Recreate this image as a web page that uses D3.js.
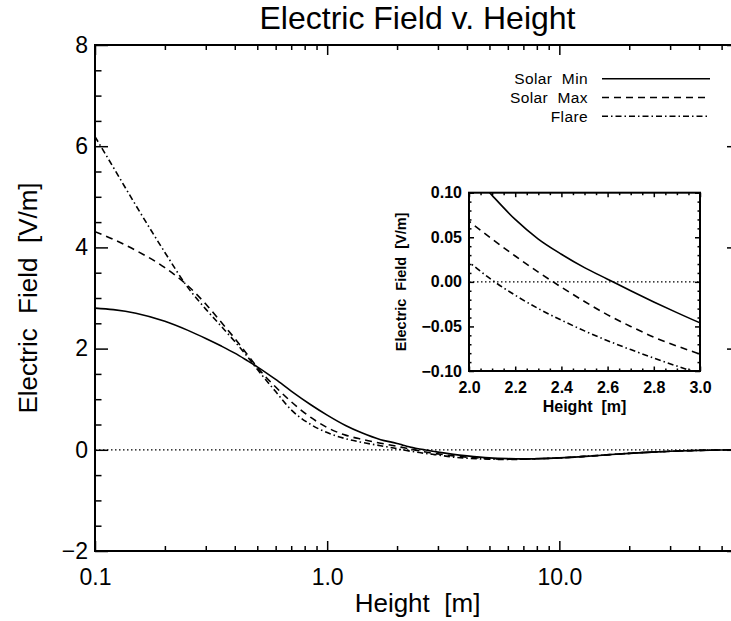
<!DOCTYPE html>
<html>
<head>
<meta charset="utf-8">
<script src="https://cdn.jsdelivr.net/npm/d3@7"></script>
<style>
  body { margin: 0; background: #fff; }
  svg { display: block; }
  text { white-space: pre; }
</style>
</head>
<body>
<svg id="chart" width="731" height="621"></svg>
<script>
// Heights [m] where the curves are sampled
const heights = [0.1, 0.12, 0.15, 0.2, 0.25, 0.3, 0.35, 0.4, 0.45, 0.5, 0.6, 0.7, 0.85, 1.0, 1.2, 1.4, 1.7,
  2.0, 2.1, 2.2, 2.3, 2.4, 2.5, 2.6, 2.7, 2.8, 2.9, 3.0, 3.5, 4, 5, 6, 7, 8, 10, 13, 16, 20, 25, 30, 40, 50, 60];

// Electric field [V/m]
const solarMin = [2.80, 2.77, 2.70, 2.54, 2.365, 2.20, 2.05, 1.91, 1.77, 1.64, 1.39, 1.16, 0.89, 0.685, 0.48, 0.34, 0.20,
  0.126, 0.097, 0.070, 0.048, 0.031, 0.016, 0.003, -0.010, -0.0225, -0.0345, -0.046, -0.090, -0.120, -0.160, -0.175,
  -0.180, -0.175, -0.160, -0.130, -0.100, -0.070, -0.045, -0.030, -0.012, -0.004, 0.0];
const solarMax = [4.31, 4.16, 3.94, 3.60, 3.25, 2.88, 2.52, 2.20, 1.90, 1.63, 1.24, 0.95, 0.64, 0.44, 0.29, 0.21, 0.13,
  0.068, 0.048, 0.029, 0.011, -0.006, -0.022, -0.037, -0.050, -0.062, -0.072, -0.081, -0.120, -0.145, -0.175, -0.185,
  -0.185, -0.178, -0.160, -0.128, -0.100, -0.070, -0.045, -0.030, -0.012, -0.004, 0.0];
const flare = [6.19, 5.58, 4.83, 3.90, 3.22, 2.78, 2.44, 2.14, 1.86, 1.59, 1.15, 0.79, 0.50, 0.34, 0.22, 0.15, 0.08,
  0.022, 0.002, -0.015, -0.030, -0.043, -0.055, -0.066, -0.076, -0.0855, -0.0945, -0.103, -0.145, -0.165, -0.185, -0.190,
  -0.187, -0.178, -0.160, -0.128, -0.100, -0.070, -0.045, -0.030, -0.012, -0.004, 0.0];

const seriesNames = ['Solar  Min', 'Solar  Max', 'Flare'];

// Tick values / labels
const mainXTicks = [0.1, 1, 10];
const mainXTickLabels = ['0.1', '1.0', '10.0'];
const mainXMinor = [0.2, 0.3, 0.4, 0.5, 0.6, 0.7, 0.8, 0.9, 2, 3, 4, 5, 6, 7, 8, 9, 20, 30, 40, 50];
const mainYTicks = [-2, 0, 2, 4, 6, 8];
const insetXTicks = [2.0, 2.2, 2.4, 2.6, 2.8, 3.0];
const insetYTicks = [-0.10, -0.05, 0.00, 0.05, 0.10];

const FONT = '"Liberation Sans", Arial, sans-serif';
const dashes = ['none', '7,5', '6,3,1.5,3'];
const series = [solarMin, solarMax, flare].map((vals, i) => ({
  name: seriesNames[i],
  dash: dashes[i],
  points: heights.map((h, j) => ({ h, v: vals[j] }))
}));

const svg = d3.select('#chart');

// ---------- main plot ----------
const pL = 95, pR = 740, pT = 45, pB = 551;
const x = d3.scaleLog().domain([0.1, 60]).range([pL, pR]);
const y = d3.scaleLinear().domain([-2, 8]).range([pB, pT]);

function tidy(g, size, weight) {
  g.attr('font-family', FONT).attr('font-size', size).attr('font-weight', weight || 'normal');
  g.select('.domain').remove();
  g.selectAll('.tick line').attr('stroke', '#000').attr('stroke-width', 1.5);
  g.selectAll('.tick text').attr('fill', '#000');
  return g;
}

const yMinor = d3.range(-2, 8.01, 0.5).filter(v => Math.abs(v % 2) > 0.01);

// bottom
svg.append('g').attr('transform', `translate(0,${pB})`)
  .call(d3.axisBottom(x).tickValues(mainXTicks).tickFormat((d, i) => mainXTickLabels[i])
    .tickSizeInner(-10).tickSizeOuter(0).tickPadding(18))
  .call(g => tidy(g, '23px'));
svg.append('g').attr('transform', `translate(0,${pB})`)
  .call(d3.axisBottom(x).tickValues(mainXMinor).tickFormat('').tickSizeInner(-5).tickSizeOuter(0))
  .call(g => tidy(g, '23px'));
// top
svg.append('g').attr('transform', `translate(0,${pT})`)
  .call(d3.axisBottom(x).tickValues(mainXTicks).tickFormat('').tickSizeInner(10).tickSizeOuter(0))
  .call(g => tidy(g, '23px'));
svg.append('g').attr('transform', `translate(0,${pT})`)
  .call(d3.axisBottom(x).tickValues(mainXMinor).tickFormat('').tickSizeInner(5).tickSizeOuter(0))
  .call(g => tidy(g, '23px'));
// left
svg.append('g').attr('transform', `translate(${pL},0)`)
  .call(d3.axisLeft(y).tickValues(mainYTicks).tickFormat(d => d < 0 ? '\u2212' + (-d) : String(d))
    .tickSizeInner(-13).tickSizeOuter(0).tickPadding(7))
  .call(g => tidy(g, '23px'));
svg.append('g').attr('transform', `translate(${pL},0)`)
  .call(d3.axisLeft(y).tickValues(yMinor).tickFormat('').tickSizeInner(-6.5).tickSizeOuter(0))
  .call(g => tidy(g, '23px'));
// right
svg.append('g').attr('transform', `translate(${pR},0)`)
  .call(d3.axisRight(y).tickValues(mainYTicks).tickFormat('').tickSizeInner(-13).tickSizeOuter(0))
  .call(g => tidy(g, '23px'));
svg.append('g').attr('transform', `translate(${pR},0)`)
  .call(d3.axisRight(y).tickValues(yMinor).tickFormat('').tickSizeInner(-6.5).tickSizeOuter(0))
  .call(g => tidy(g, '23px'));

svg.append('rect')
  .attr('x', pL).attr('y', pT).attr('width', pR - pL).attr('height', pB - pT)
  .attr('fill', 'none').attr('stroke', '#000').attr('stroke-width', 2);

svg.append('defs').append('clipPath').attr('id', 'clipMain')
  .append('rect').attr('x', pL).attr('y', pT).attr('width', pR - pL).attr('height', pB - pT);

// zero line
svg.append('line')
  .attr('x1', x(0.1)).attr('x2', x(60)).attr('y1', y(0)).attr('y2', y(0))
  .attr('stroke', '#000').attr('stroke-width', 1.3).attr('stroke-dasharray', '1.5,2.5');

const line = d3.line().x(d => x(d.h)).y(d => y(d.v)).curve(d3.curveMonotoneX);
const curves = svg.append('g').attr('clip-path', 'url(#clipMain)');
series.slice().reverse().forEach(s => {
  curves.append('path')
    .attr('d', line(s.points))
    .attr('fill', 'none')
    .attr('stroke', '#000')
    .attr('stroke-width', 1.6)
    .attr('stroke-dasharray', s.dash);
});

// titles
svg.append('text').attr('x', (pL + pR) / 2).attr('y', 29)
  .attr('text-anchor', 'middle').attr('font-family', FONT).attr('font-size', '32px')
  .text('Electric Field v. Height');
svg.append('text').attr('x', (pL + pR) / 2).attr('y', 612)
  .attr('text-anchor', 'middle').attr('font-family', FONT).attr('font-size', '26px')
  .text('Height  [m]');
svg.append('text').attr('transform', `translate(37,${(pT + pB) / 2}) rotate(-90)`)
  .attr('text-anchor', 'middle').attr('font-family', FONT).attr('font-size', '26px')
  .text('Electric  Field  [V/m]');

// legend
const legend = svg.append('g');
series.forEach((s, i) => {
  const by = 84.3 + i * 18.7;
  legend.append('text')
    .attr('x', 588).attr('y', by)
    .attr('text-anchor', 'end').attr('font-family', FONT).attr('font-size', '15.5px')
    .attr('letter-spacing', '0.4px')
    .text(s.name);
  legend.append('line')
    .attr('x1', 602).attr('x2', 710).attr('y1', by - 5.5).attr('y2', by - 5.5)
    .attr('stroke', '#000').attr('stroke-width', 1.6).attr('stroke-dasharray', s.dash);
});

// ---------- inset ----------
const iL = 469, iR = 700, iT = 192.7, iB = 371;
const xi = d3.scaleLinear().domain([2, 3]).range([iL, iR]);
const yi = d3.scaleLinear().domain([-0.1, 0.1]).range([iB, iT]);

svg.append('rect').attr('x', iL).attr('y', iT).attr('width', iR - iL).attr('height', iB - iT).attr('fill', '#fff');

const ixMinor = d3.range(2, 3.001, 0.05).filter(v => Math.abs(v * 5 - Math.round(v * 5)) > 0.01);
const iyMinor = d3.range(-0.1, 0.1001, 0.01).filter(v => Math.abs(v * 20 - Math.round(v * 20)) > 0.01);

svg.append('g').attr('transform', `translate(0,${iB})`)
  .call(d3.axisBottom(xi).tickValues(insetXTicks).tickFormat(d3.format('.1f'))
    .tickSizeInner(-4.5).tickSizeOuter(0).tickPadding(10.5))
  .call(g => tidy(g, '16px', 'bold'));
svg.append('g').attr('transform', `translate(0,${iB})`)
  .call(d3.axisBottom(xi).tickValues(ixMinor).tickFormat('').tickSizeInner(-2.5).tickSizeOuter(0))
  .call(g => tidy(g, '16px'));
svg.append('g').attr('transform', `translate(0,${iT})`)
  .call(d3.axisBottom(xi).tickValues(insetXTicks).tickFormat('').tickSizeInner(4.5).tickSizeOuter(0))
  .call(g => tidy(g, '16px'));
svg.append('g').attr('transform', `translate(0,${iT})`)
  .call(d3.axisBottom(xi).tickValues(ixMinor).tickFormat('').tickSizeInner(2.5).tickSizeOuter(0))
  .call(g => tidy(g, '16px'));
svg.append('g').attr('transform', `translate(${iL},0)`)
  .call(d3.axisLeft(yi).tickValues(insetYTicks)
    .tickFormat(d => (d < -1e-9 ? '\u2212' : '') + Math.abs(d).toFixed(2))
    .tickSizeInner(-5).tickSizeOuter(0).tickPadding(7))
  .call(g => tidy(g, '16px', 'bold'));
svg.append('g').attr('transform', `translate(${iL},0)`)
  .call(d3.axisLeft(yi).tickValues(iyMinor).tickFormat('').tickSizeInner(-2.5).tickSizeOuter(0))
  .call(g => tidy(g, '16px'));
svg.append('g').attr('transform', `translate(${iR},0)`)
  .call(d3.axisRight(yi).tickValues(insetYTicks).tickFormat('').tickSizeInner(-5).tickSizeOuter(0))
  .call(g => tidy(g, '16px'));
svg.append('g').attr('transform', `translate(${iR},0)`)
  .call(d3.axisRight(yi).tickValues(iyMinor).tickFormat('').tickSizeInner(-2.5).tickSizeOuter(0))
  .call(g => tidy(g, '16px'));

svg.select('defs').append('clipPath').attr('id', 'clipInset')
  .append('rect').attr('x', iL).attr('y', iT).attr('width', iR - iL).attr('height', iB - iT);

svg.append('line')
  .attr('x1', iL).attr('x2', iR).attr('y1', yi(0)).attr('y2', yi(0))
  .attr('stroke', '#000').attr('stroke-width', 1.3).attr('stroke-dasharray', '1.5,2.5');

const iline = d3.line().x(d => xi(d.h)).y(d => yi(d.v)).curve(d3.curveMonotoneX);
const icurves = svg.append('g').attr('clip-path', 'url(#clipInset)');
series.forEach(s => {
  icurves.append('path')
    .attr('d', iline(s.points.filter(p => p.h >= 1.7 && p.h <= 3.5)))
    .attr('fill', 'none')
    .attr('stroke', '#000')
    .attr('stroke-width', 1.6)
    .attr('stroke-dasharray', s.dash);
});

svg.append('rect').attr('x', iL).attr('y', iT).attr('width', iR - iL).attr('height', iB - iT)
  .attr('fill', 'none').attr('stroke', '#000').attr('stroke-width', 2);

svg.append('text').attr('x', (iL + iR) / 2).attr('y', 412)
  .attr('text-anchor', 'middle').attr('font-family', FONT).attr('font-size', '16px').attr('font-weight', 'bold')
  .text('Height  [m]');
svg.append('text').attr('transform', `translate(406,${(iT + iB) / 2}) rotate(-90)`)
  .attr('text-anchor', 'middle').attr('font-family', FONT).attr('font-size', '14.5px').attr('font-weight', 'bold')
  .text('Electric  Field  [V/m]');
</script>
</body>
</html>
